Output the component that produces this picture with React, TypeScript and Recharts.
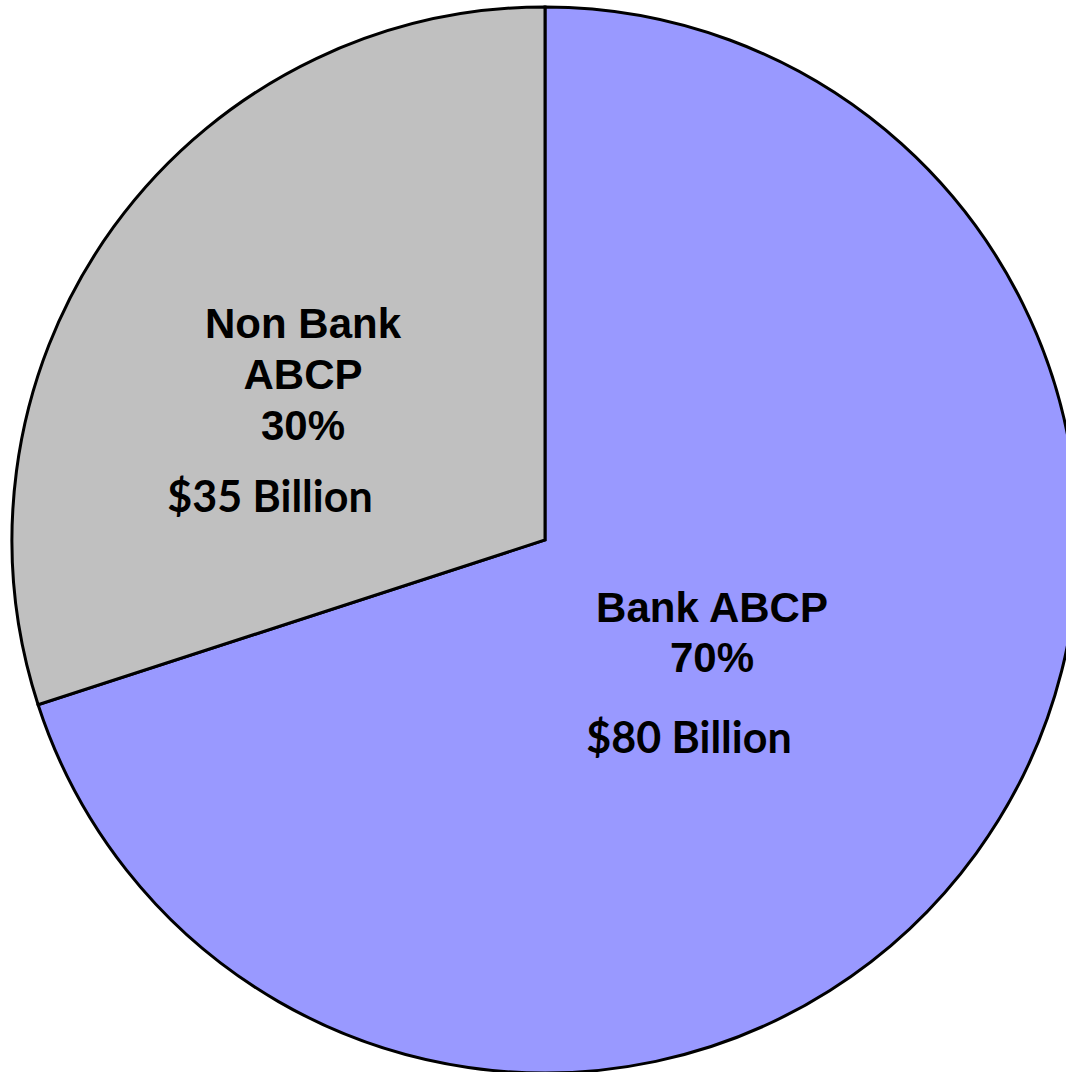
import React from "react";
import { PieChart, Pie, Cell } from "recharts";

// shares of ABCP outstanding
const segments = ["Bank ABCP", "Non Bank ABCP"];
const shares = [70, 30];
const amounts = [80, 35]; // $ billion
const titleLines = [["Bank ABCP"], ["Non Bank", "ABCP"]];
const colors = ["#9999FF", "#C0C0C0"];

const data = segments.map((name, i) => ({ name, value: shares[i], amount: amounts[i] }));

// label placement relative to pie centre
const labelLayout = [
  { x: 167, amountX: 144, firstY: 82, lineGap: 50, amountY: 213 },
  { x: -242, amountX: -275, firstY: -202, lineGap: 51, amountY: -28 },
];

const renderLabel = (props: any) => {
  const { cx, cy, index } = props;
  const lay = labelLayout[index];
  const lines = [...titleLines[index], `${shares[index]}%`];
  return (
    <g>
      {lines.map((t, i) => (
        <text
          key={i}
          x={cx + lay.x}
          y={cy + lay.firstY + i * lay.lineGap}
          textAnchor="middle"
          fill="#000"
          style={{ fontFamily: "'Liberation Sans', Arial, sans-serif", fontWeight: 700, fontSize: 42 }}
        >
          {t}
        </text>
      ))}
      <text
        x={cx + lay.amountX}
        y={cy + lay.amountY}
        textAnchor="middle"
        fill="#000"
        style={{ fontFamily: "Lato, 'Open Sans', sans-serif", fontWeight: 700, fontSize: 43 }}
      >
        {`$${amounts[index]} Billion`}
      </text>
    </g>
  );
};

export default function App() {
  return (
    <div style={{ position: "absolute", left: 0, top: 0, width: 1066, height: 1072, background: "#fff" }}>
      <PieChart width={1066} height={1072} margin={{ top: 0, right: 0, bottom: 0, left: 0 }}>
        <Pie
          data={data}
          dataKey="value"
          nameKey="name"
          cx={545}
          cy={540}
          outerRadius={533}
          startAngle={90}
          endAngle={-270}
          stroke="#000"
          strokeWidth={3}
          label={renderLabel}
          labelLine={false}
          isAnimationActive={false}
        >
          {data.map((d, i) => (
            <Cell key={d.name} fill={colors[i]} />
          ))}
        </Pie>
      </PieChart>
    </div>
  );
}
